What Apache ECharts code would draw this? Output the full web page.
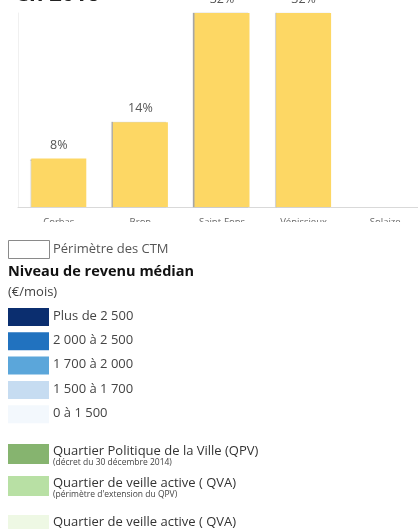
<!DOCTYPE html>
<html>
<head>
<meta charset="utf-8">
<script src="https://cdn.jsdelivr.net/npm/echarts@6/dist/echarts.min.js"></script>
<style>
  html, body { margin: 0; padding: 0; background: #fff; }
  #chart { width: 418px; height: 529px; }
</style>
</head>
<body>
<div id="chart"></div>
<script>
// données
const communes = ['Corbas', 'Bron', 'Saint-Fons', 'Vénissieux', 'Solaize'];
const parts = [8, 14, 32, 32, null];

// légende de la carte
const revenuLabels = ['Plus de 2 500', '2 000 à 2 500', '1 700 à 2 000', '1 500 à 1 700', '0 à 1 500'];
const revenuColors = ['#0b2e6f', '#2172bf', '#5ba6da', '#c6dcf1', '#f3f8fd'];
const quartierLabels = ['Quartier Politique de la Ville (QPV)', 'Quartier de veille active ( QVA)', 'Quartier de veille active ( QVA)'];
const quartierNotes = ['(décret du 30 décembre 2014)', '(périmètre d\'extension du QPV)', ''];
const quartierColors = ['#86b46f', '#b8e0a4', '#eef8e4'];
const quartierTops = [444, 476, 515];

const font = '"Open Sans", "DejaVu Sans", sans-serif';
const chart = echarts.init(document.getElementById('chart'));

const graphics = [];
// titre coupé en haut de l'image
graphics.push({ type: 'text', x: 16, y: 6, style: { text: 'en 2016', font: 'bold 22px ' + font, fill: '#222', verticalAlign: 'bottom' } });
// bande blanche qui coupe le bas des libellés (image recadrée)
graphics.push({ type: 'rect', shape: { x: 0, y: 222, width: 418, height: 15 }, style: { fill: '#fff' }, z: 100 });
// Périmètre des CTM
graphics.push({ type: 'rect', shape: { x: 8.5, y: 240.5, width: 41, height: 18 }, style: { fill: '#fff', stroke: '#8a8a8a', lineWidth: 1 } });
graphics.push({ type: 'text', x: 53, y: 249, style: { text: 'Périmètre des CTM', font: '13px ' + font, fill: '#555', verticalAlign: 'middle' } });
graphics.push({ type: 'text', x: 8, y: 272, style: { text: 'Niveau de revenu médian', font: 'bold 14.5px ' + font, fill: '#111', verticalAlign: 'middle' } });
graphics.push({ type: 'text', x: 8, y: 292, style: { text: '(€/mois)', font: '13px ' + font, fill: '#444', verticalAlign: 'middle' } });

revenuLabels.forEach((label, i) => {
  const y = 308 + i * 24.3;
  graphics.push({ type: 'rect', shape: { x: 8, y: y, width: 41, height: 18 }, style: { fill: revenuColors[i] } });
  graphics.push({ type: 'text', x: 53, y: y + 8, style: { text: label, font: '13px ' + font, fill: '#444', verticalAlign: 'middle' } });
});

quartierLabels.forEach((label, i) => {
  const y = quartierTops[i];
  graphics.push({ type: 'rect', shape: { x: 8, y: y, width: 41, height: 20 }, style: { fill: quartierColors[i] } });
  graphics.push({ type: 'text', x: 53, y: y + 7, style: { text: label, font: '13px ' + font, fill: '#333', verticalAlign: 'middle' } });
  if (quartierNotes[i]) {
    graphics.push({ type: 'text', x: 53, y: y + 19, style: { text: quartierNotes[i], font: '8.5px ' + font, fill: '#444', verticalAlign: 'middle' } });
  }
});

const option = {
  animation: false,
  grid: { left: 18, width: 408, top: 13, bottom: 322, containLabel: false, outerBoundsMode: 'none' },
  xAxis: {
    type: 'category',
    data: communes,
    axisLine: { lineStyle: { color: '#d9d9d9' } },
    axisTick: { show: false },
    axisLabel: { fontFamily: font, fontSize: 9.5, color: '#666', margin: 10, interval: 0 }
  },
  yAxis: {
    type: 'value',
    min: 0,
    max: 32,
    axisLine: { show: true, lineStyle: { color: '#f0f0f0' } },
    axisLabel: { show: false },
    axisTick: { show: false },
    splitLine: { show: false }
  },
  series: [{
    type: 'bar',
    data: parts,
    barWidth: 55,
    itemStyle: {
      color: '#fdd764',
      shadowColor: 'rgba(0,0,0,0.35)',
      shadowBlur: 1,
      shadowOffsetX: -1.5
    },
    label: {
      show: true,
      position: 'top',
      formatter: '{c}%',
      fontFamily: font,
      fontSize: 12.5,
      color: '#555',
      distance: 7
    }
  }],
  graphic: graphics
};

chart.setOption(option);
</script>
</body>
</html>
